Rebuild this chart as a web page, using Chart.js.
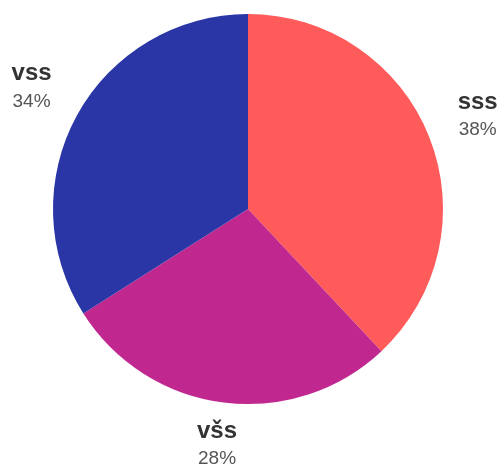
<!DOCTYPE html>
<html>
<head>
<meta charset="utf-8">
<script src="https://cdn.jsdelivr.net/npm/chart.js@4"></script>
<style>
  html, body { margin: 0; padding: 0; background: #fff; }
  #wrap { width: 501px; height: 466px; }
</style>
</head>
<body>
<div id="wrap"><canvas id="pie"></canvas></div>
<script>
const labels = ["sss", "všs", "vss"];
const values = [38, 28, 34];
const colors = ["#ff5b5b", "#c0288f", "#2a36a6"];

// labels outside the slices, pushed back inside the canvas when they'd spill over
const outsideLabels = {
  id: "outsideLabels",
  afterDraw(chart) {
    const ctx = chart.ctx;
    const meta = chart.getDatasetMeta(0);
    const W = chart.width, H = chart.height;
    meta.data.forEach((arc, i) => {
      const mid = (arc.startAngle + arc.endAngle) / 2;
      const dx = Math.cos(mid), dy = Math.sin(mid);
      const r = arc.outerRadius + 32;
      const w = 40, h = 50;
      let x = arc.x + dx * r + dx * w / 2;
      let y = arc.y + dy * r + dy * h / 2;
      x = Math.min(Math.max(x, w / 2), W - w / 2);
      y = Math.min(Math.max(y, 22), H - 21);
      ctx.save();
      ctx.textAlign = "center";
      ctx.textBaseline = "middle";
      ctx.fillStyle = "#333";
      ctx.font = "bold 24px 'Liberation Sans', Arial, sans-serif";
      ctx.fillText(labels[i], x, y - 14);
      ctx.fillStyle = "#555";
      ctx.font = "19px 'Liberation Sans', Arial, sans-serif";
      ctx.fillText(values[i] + "%", x, y + 14);
      ctx.restore();
    });
  },
};

new Chart(document.getElementById("pie"), {
  type: "pie",
  data: {
    labels,
    datasets: [{ data: values, backgroundColor: colors, borderWidth: 0 }],
  },
  options: {
    responsive: true,
    maintainAspectRatio: false,
    animation: false,
    layout: { padding: { top: 14, bottom: 62, left: 53, right: 58 } },
    plugins: { legend: { display: false }, tooltip: { enabled: false } },
  },
  plugins: [outsideLabels],
});
</script>
</body>
</html>
